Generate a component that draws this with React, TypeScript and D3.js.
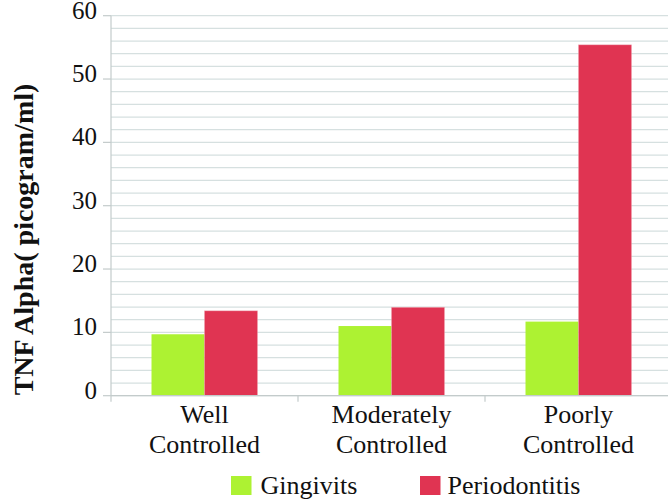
import React from "react";
import * as d3 from "d3";

const categories = [["Well", "Controlled"], ["Moderately", "Controlled"], ["Poorly", "Controlled"]];
const seriesNames = ["Gingivits", "Periodontitis"];
const gingivitis = [9.7, 11.0, 11.7];
const periodontitis = [13.4, 13.95, 55.4];
const yTicks = [0, 10, 20, 30, 40, 50, 60];
const colors = ["#adf232", "#e03452"];

const W = 668;
const H = 501;
const left = 111;
const right = 672;
const top = 15.7;
const bottom = 395.7;
const FONT = "Liberation Serif, Tinos, Times New Roman, serif";

export default function App() {
  const keys = categories.map((c) => c.join(" "));
  const x0 = d3.scaleBand<string>().domain(keys).range([left, right]).padding(0);
  const bw = x0.bandwidth();
  const x1 = d3.scaleBand<string>().domain(seriesNames).range([bw * 0.2166, bw * 0.7834]).padding(0);
  const y = d3.scaleLinear().domain([0, 60]).range([bottom, top]);
  const minor = d3.range(0, 61, 2);
  const values = [gingivitis, periodontitis];

  return (
    <svg width={W} height={H} style={{ position: "absolute", left: 0, top: 0, background: "#fff" }} fontFamily={FONT}>
      {minor.map((v) => (
        <line key={"g" + v} x1={left} x2={right} y1={y(v)} y2={y(v)} stroke="#d6e0e0" strokeWidth={1.2} />
      ))}
      {yTicks.map((v) => (
        <g key={"t" + v}>
          <line x1={left - 8} x2={left} y1={y(v)} y2={y(v)} stroke="#c3cbcb" strokeWidth={1.2} />
          <text x={97} y={y(v) + 3} textAnchor="end" fontSize={25} fill="#111" fontFamily={FONT}>{String(v)}</text>
        </g>
      ))}
      {values.map((vals, si) =>
        vals.map((v, ci) => (
          <rect
            key={`b${si}-${ci}`}
            x={(x0(keys[ci]) ?? 0) + (x1(seriesNames[si]) ?? 0)}
            y={y(v)}
            width={x1.bandwidth()}
            height={y(0) - y(v)}
            fill={colors[si]}
            stroke="#f2a8b4"
            strokeOpacity={si === 1 ? 0.5 : 0}
            strokeWidth={0.8}
          />
        ))
      )}
      <line x1={left} x2={left} y1={top} y2={bottom + 6} stroke="#c3cbcb" strokeWidth={1.2} />
      <line x1={left} x2={right} y1={bottom} y2={bottom} stroke="#c3cbcb" strokeWidth={1.2} />
      {keys.map((k, i) => (
        <line key={"xt" + i} x1={(x0(k) ?? 0) + bw} x2={(x0(k) ?? 0) + bw} y1={bottom} y2={bottom + 6} stroke="#c3cbcb" strokeWidth={1.2} />
      ))}
      {categories.map((c, i) =>
        c.map((line, j) => (
          <text
            key={`c${i}-${j}`}
            x={(x0(keys[i]) ?? 0) + bw / 2}
            y={423 + j * 29.7}
            textAnchor="middle"
            fontSize={26}
            fill="#111"
            fontFamily={FONT}
          >
            {line}
          </text>
        ))
      )}
      <text transform={`translate(33,239.5) rotate(-90)`} textAnchor="middle" fontSize={28} fontWeight="bold" fill="#111" fontFamily={FONT}>
        TNF Alpha( picogram/ml)
      </text>
      {seriesNames.map((s, i) => (
        <g key={"l" + i}>
          <rect x={231 + i * 189} y={476} width={20.5} height={19} fill={colors[i]} />
          <text x={260.5 + i * 187} y={494} fontSize={26} fill="#111" fontFamily={FONT}>{s}</text>
        </g>
      ))}
    </svg>
  );
}
